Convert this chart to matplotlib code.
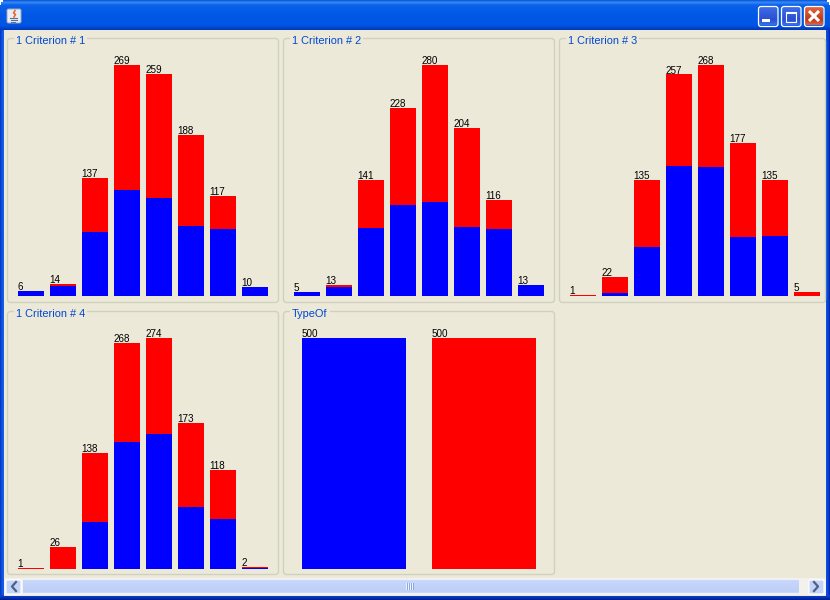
import numpy as np
import matplotlib
matplotlib.use('Agg')
import matplotlib.pyplot as plt
from matplotlib.patches import FancyBboxPatch, Rectangle

W, H = 830, 600
BG = '#ECE9D8'
EDGE = '#D0D0BF'
TITLE_BLUE = '#0046D5'

titles = ['1 Criterion # 1', '1 Criterion # 2', '1 Criterion # 3', '1 Criterion # 4', 'TypeOf']

blue1 = [6, 12, 75, 123, 114, 81, 78, 10]
red1 = [0, 2, 62, 146, 145, 107, 39, 0]
blue2 = [5, 11, 82, 110, 114, 84, 81, 13]
red2 = [0, 2, 59, 118, 166, 120, 35, 0]
blue3 = [0, 4, 57, 151, 150, 68, 70, 0]
red3 = [1, 18, 78, 106, 118, 109, 65, 5]
blue4 = [0, 0, 56, 151, 160, 74, 59, 1]
red4 = [1, 26, 82, 117, 114, 99, 59, 1]
blue5 = [500, 0]
red5 = [0, 500]

# panel boxes in pixels: left, top, right, bottom
boxes = [(7.5, 38.5, 278.5, 302.5), (283.5, 38.5, 554.5, 302.5), (559.5, 38.5, 825.5, 302.5),
         (7.5, 311.5, 278.5, 574.5), (283.5, 311.5, 554.5, 574.5)]
# plot area in pixels: left, top, width, height, bar width as part of the pitch
areas = [(15, 65, 256, 231, 26 / 32), (291, 65, 256, 231, 26 / 32), (567, 65, 256, 231, 26 / 32),
         (15, 338, 256, 231, 26 / 32), (289, 338, 260, 231, 104 / 130)]
series = [(blue1, red1), (blue2, red2), (blue3, red3), (blue4, red4), (blue5, red5)]

fig = plt.figure(figsize=(W / 100, H / 100), dpi=100)
bg = fig.add_axes([0, 0, 1, 1])
bg.set_xlim(0, W)
bg.set_ylim(H, 0)
bg.axis('off')


def grad(x0, x1, y0, y1, stops, zorder=1, horiz=False):
    pos = [s[0] for s in stops]
    cols = np.array([matplotlib.colors.to_rgb(s[1]) for s in stops])
    t = np.linspace(0, 1, 64)
    img = np.stack([np.interp(t, pos, cols[:, i]) for i in range(3)], axis=-1)
    img = img[np.newaxis, :, :] if horiz else img[:, np.newaxis, :]
    bg.imshow(img, extent=(x0, x1, y1, y0), aspect='auto', zorder=zorder, interpolation='bilinear')
    bg.set_xlim(0, W)
    bg.set_ylim(H, 0)


def rect(x, y, w, h, color, zorder=2, **kw):
    bg.add_patch(Rectangle((x, y), w, h, fc=color, ec='none', zorder=zorder, **kw))


# window frame
rect(0, 0, W, H, '#0A3FD0', 0)
grad(0, W, 0, 30, [(0, '#0A52DC'), (0.07, '#3A8CF5'), (0.16, '#0A62EA'), (0.5, '#0058E6'),
                   (0.85, '#0055E5'), (1, '#0038B8')])
grad(0, 4, 30, 596, [(0, '#0A2FC0'), (0.4, '#0A55E0'), (1, '#1A6CF0')], 2, horiz=True)
grad(826, 830, 30, 596, [(0, '#0A55E0'), (0.6, '#0A3FD0'), (1, '#0020A0')], 2, horiz=True)
grad(0, W, 595, 600, [(0, '#0A4AD8'), (1, '#001C90')], 2)
rect(4, 30, 822, 566, BG, 3)
rect(0, 0, 3, 2, 'white', 6)
rect(0, 0, 1, 5, 'white', 6)
rect(827, 0, 3, 2, 'white', 6)
rect(829, 0, 1, 5, 'white', 6)

# java icon
bg.add_patch(FancyBboxPatch((7, 9), 14, 14, boxstyle='round,pad=0,rounding_size=1.5', fc='#E8ECF4', ec='#9AA8C8', lw=0.7, zorder=5))
bg.plot([14, 15.5, 13.5, 15], [17, 14.5, 13, 10.5], color='#E8641E', lw=1.1, zorder=6)
bg.plot([10, 17], [18, 18], color='#5A6E90', lw=0.8, zorder=6)
bg.plot([10.5, 16.5], [20, 20], color='#5A6E90', lw=0.8, zorder=6)
bg.plot([11, 15], [21.7, 21.7], color='#5A6E90', lw=0.7, zorder=6)

# window buttons
for x0, face, face2 in [(758, '#3C6EE8', '#2A4FD0'), (781, '#3C6EE8', '#2A4FD0'), (804, '#E0663C', '#C03A18')]:
    grad(x0 + 1, x0 + 19, 7, 25, [(0, face), (0.7, face2), (1, face)], 5)
    bg.add_patch(FancyBboxPatch((x0 + 0.5, 6.5), 19.5, 20, boxstyle='round,pad=0,rounding_size=2.5', fc='none', ec='white', lw=0.9, zorder=6))
rect(762, 19, 8, 3, 'white', 7)
bg.add_patch(Rectangle((786, 12), 10, 10, fc='none', ec='white', lw=0.8, zorder=7))
rect(786, 11.5, 10.5, 2.5, 'white', 7)
bg.plot([809, 819], [11, 21], color='white', lw=2.2, zorder=7, solid_capstyle='butt')
bg.plot([819, 809], [11, 21], color='white', lw=2.2, zorder=7, solid_capstyle='butt')

# scrollbar
rect(4, 578, 822, 17, '#F3F1EC', 3)
grad(23, 798, 579, 594, [(0, '#FFFFFF'), (0.08, '#C8D6FA'), (0.9, '#BCCFF8'), (1, '#FFFFFF')], 4)
for x0 in (6, 809):
    bg.add_patch(FancyBboxPatch((x0, 580), 15, 14, boxstyle='round,pad=0,rounding_size=1.5', fc='#C4D3F8', ec='white', lw=0.8, zorder=5))
bg.plot([16, 12, 16], [582, 586.5, 591], color='#4D6185', lw=1.6, zorder=6)
bg.plot([814, 818, 814], [582, 586.5, 591], color='#4D6185', lw=1.6, zorder=6)
for x0 in (406, 408, 410, 412):
    rect(x0, 583, 1, 7, '#EEF4FE', 6)
    rect(x0 + 1, 583, 1, 7, '#8CA6E0', 6)

# group boxes and their titles
for (l, t, r, b), title in zip(boxes, titles):
    bg.add_patch(FancyBboxPatch((l, t), r - l, b - t, boxstyle='round,pad=0,rounding_size=3',
                                fc='none', ec=EDGE, lw=1.0, zorder=4))
    bg.text(l + 8.5, t + 2.5, title, fontsize=7.9, family='Liberation Sans', color=TITLE_BLUE, va='center', ha='left',
            zorder=6, bbox=dict(fc=BG, ec='none', pad=1.5))

# the charts
for (px, py, pw, ph, bw), (blue, red) in zip(areas, series):
    ax = fig.add_axes([px / W, 1 - (py + ph) / H, pw / W, ph / H])
    ax.patch.set_alpha(0)
    ax.axis('off')
    n = len(blue)
    pos = np.arange(n)
    total = np.array(blue) + np.array(red)
    ax.bar(pos, blue, width=bw, color='#0000FF', linewidth=0)
    ax.bar(pos, red, width=bw, bottom=blue, color='#FF0000', linewidth=0)
    ax.set_xlim(-0.5, n - 0.5)
    ax.set_ylim(0, total.max())
    for i, v in enumerate(total):
        ax.annotate(str(v), (i - bw / 2, v), xytext=(-0.3, 0.7), textcoords='offset points', fontsize=7.1,
                    family='Liberation Sans', color='black', ha='left', va='baseline', annotation_clip=False)

fig.savefig('out.png', dpi=100)
